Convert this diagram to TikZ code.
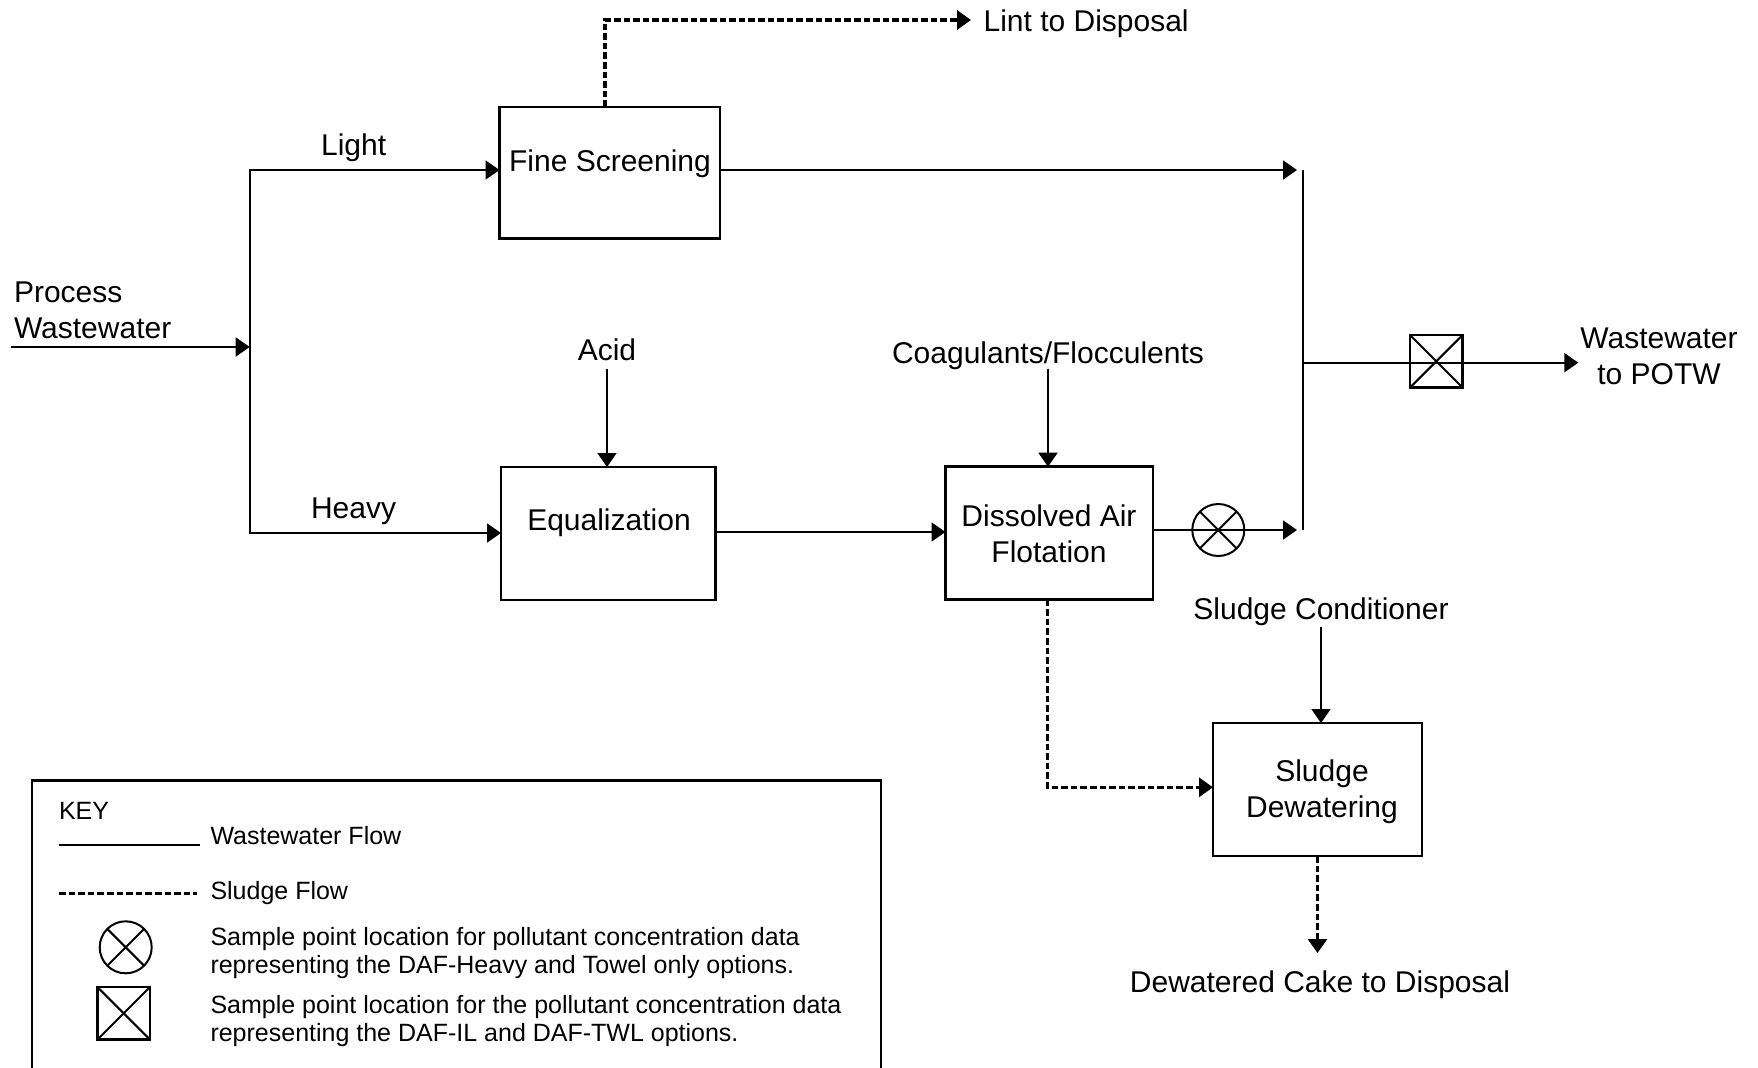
\documentclass[tikz,border=0pt]{standalone}
\usepackage{fontspec}
\setmainfont{Liberation Sans}
\usetikzlibrary{arrows.meta}
\begin{document}
\begin{tikzpicture}[x=0.5pt,y=-0.5pt,
  every node/.style={inner sep=0pt, outer sep=0pt},
  lbl/.style={font=\fontsize{15}{18}\selectfont},
  keytxt/.style={font=\fontsize{12.5}{13.8}\selectfont, align=left},
  procbox/.style={draw, rectangle, line width=1.3pt},
  flow/.style={line width=0.9pt},
  sludge/.style={line width=1.6pt, dash pattern=on 3.3pt off 1.5pt},
  tip/.style={-{Triangle[length=7pt,width=9.5pt]}},
  twotip/.style={{Triangle[length=7pt,width=9.5pt]}-{Triangle[length=7pt,width=9.5pt]}},
  samplecirc/.style={draw, circle, line width=1pt, minimum size=26pt},
  samplesq/.style={draw, rectangle, line width=1.25pt, minimum size=26.3pt},
  xline/.style={line width=1pt}
]
\useasboundingbox (0,0) rectangle (1758,1067);

% process boxes
\node[procbox, minimum width=110.25pt, minimum height=65.85pt] (fs) at (609.75,172.85) {};
\node[lbl, anchor=base] (fst) at (610,171) {Fine Screening};
\node[procbox, minimum width=107.25pt, minimum height=66.5pt] (eq) at (608.25,533.5) {};
\node[lbl, anchor=base] (eqt) at (609,530.4) {Equalization};
\node[procbox, minimum width=103.75pt, minimum height=66.4pt] (daf) at (1049.25,533.1) {};
\node[lbl, align=center] (daft) at (1049,534) {Dissolved Air\\Flotation};
\node[procbox, minimum width=104.5pt, minimum height=66.5pt] (sd) at (1317.5,789.5) {};
\node[lbl, align=center] (sdt) at (1322,792) {Sludge\\Dewatering};

% labels
\node[lbl, anchor=base west, inner xsep=6.3pt] (lint) at (971,31) {Lint to Disposal};
\node[lbl, anchor=base] (light) at (353.6,155) {Light};
\node[lbl, anchor=base] (heavy) at (353.6,518) {Heavy};
\node[lbl, anchor=base] (acid) at (607,360) {Acid};
\node[lbl, anchor=base] (coag) at (1048,363) {Coagulants/Flocculents};
\node[lbl, anchor=base] (cond) at (1321,619) {Sludge Conditioner};
\node[lbl, anchor=base] (cake) at (1320,992) {Dewatered Cake to Disposal};
\node[lbl, align=left, anchor=west] (pw) at (14,310) {Process\\Wastewater};
\node[lbl, align=center, inner xsep=1pt] (potw) at (1659,356.7) {Wastewater\\to POTW};

% sample points
\node[samplecirc] (s1) at (1218.3,530) {};
\draw[xline] (s1.north west) -- (s1.south east) (s1.north east) -- (s1.south west);
\node[samplesq] (s2) at (1436.3,361.3) {};
\draw[xline] (s2.north west) -- (s2.south east) (s2.north east) -- (s2.south west);

% wastewater flows
\coordinate (in) at (11,347);
\coordinate (bm) at (249.7,347);
\coordinate (bt) at (249.7,170);
\coordinate (bb) at (249.7,533);
\draw[flow,tip] (in) -- (bm);
\draw[flow,twotip] (fs.west |- bt) -- (bt) -- (bb) -- (eq.west |- bb);
\draw[flow,tip] ([yshift=0.75pt]eq.east) -- ([yshift=0.75pt]eq.east -| daf.west);
\draw[flow,tip] ([yshift=-4.5pt]acid.base) -- (acid.base |- eq.north);
\draw[flow,tip] ([yshift=-2.75pt]coag.base) -- (coag.base |- daf.north);
\draw[flow,tip] ([yshift=-3.85pt]cond.base) -- (cond.base |- sd.north);

\coordinate (rt) at (1303,170);
\coordinate (rb) at (1303,530);
\coordinate (rm) at (1303,362.7);
\draw[flow] (rt) -- (rb);
\draw[flow,tip] (fs.east |- rt) -- ([xshift=-3pt]rt);
\draw[flow,tip] (daf.east |- rb) -- ([xshift=-3pt]rb);
\draw[flow,tip] (rm) -- (potw.west |- rm);

% sludge flows
\coordinate (lintc) at (605,20);
\draw[sludge,tip] (fs.north -| lintc) -- (lintc) -- (lint.west |- lintc);
\coordinate (dafc) at (1047.4,787.3);
\draw[sludge,tip] (daf.south -| dafc) -- (dafc) -- (sd.west |- dafc);
\coordinate (cakein) at ([yshift=19.5pt]cake.base);
\draw[sludge,tip] (sd.south) -- (sd.south |- cakein);

% key
\draw[line width=1.15pt] (32.3,1075) -- (32.3,780.6) -- (881,780.6) -- (881,1075);
\node[keytxt, anchor=base west] (key) at (59,819) {KEY};
\coordinate (kwa) at (59,845.2);
\coordinate (kwb) at (200,845.2);
\draw[line width=0.75pt] (kwa) -- (kwb);
\node[keytxt, anchor=base west] (kww) at (210.5,844) {Wastewater Flow};
\coordinate (ksa) at (59,893.3);
\coordinate (ksb) at (197,893.3);
\draw[sludge] (ksa) -- (ksb);
\node[keytxt, anchor=base west] (ksf) at (210.5,899) {Sludge Flow};
\node[samplecirc] (k1) at (125.7,947.3) {};
\draw[xline] (k1.north west) -- (k1.south east) (k1.north east) -- (k1.south west);
\node[samplesq] (k2) at (123.7,1013.3) {};
\draw[xline] (k2.north west) -- (k2.south east) (k2.north east) -- (k2.south west);
\node[keytxt, anchor=west] (ks1) at (210.5,953.3) {Sample point location for pollutant concentration data\\representing the DAF-Heavy and Towel only options.};
\node[keytxt, anchor=west] (ks2) at (210.5,1021.3) {Sample point location for the pollutant concentration data\\representing the DAF-IL and DAF-TWL options.};
\end{tikzpicture}
\end{document}
